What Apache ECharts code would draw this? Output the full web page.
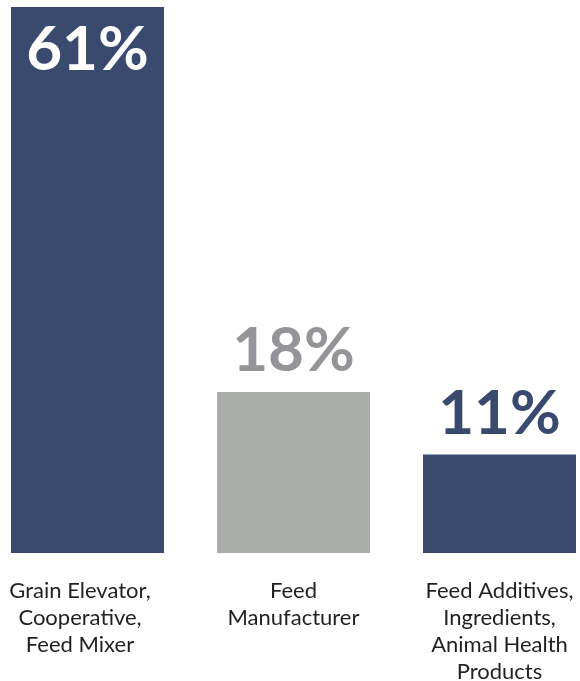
<!DOCTYPE html>
<html>
<head>
<meta charset="utf-8">
<script src="https://cdn.jsdelivr.net/npm/echarts@6/dist/echarts.min.js"></script>
<style>
  html, body { margin: 0; padding: 0; background: #fff; }
  #chart { width: 580px; height: 681px; }
</style>
</head>
<body>
<div id="chart"></div>
<script>
const categories = [
  'Grain Elevator,\nCooperative,\nFeed Mixer',
  'Feed\nManufacturer',
  'Feed Additives,\nIngredients,\nAnimal Health\nProducts'
]
const values = [61, 18, 11]
const barColors = ['#394a6e', '#a9aca8', '#394a6e']
const labelColors = ['#ffffff', '#939598', '#394a6e']

const chart = echarts.init(document.getElementById('chart'))

chart.setOption({
  animation: false,
  grid: { left: -15.5, right: -22.5, top: 7, bottom: 128, containLabel: false, outerBoundsMode: 'none' },
  xAxis: {
    type: 'category',
    data: categories.map((c, i) => ({
      value: c,
      textStyle: i === 0 ? { padding: [0, 15, 0, 0] } : {},
    })),
    axisLine: { show: false },
    axisTick: { show: false },
    axisLabel: {
      interval: 0,
      margin: 24,
      color: '#231f20',
      fontFamily: 'Lato',
      fontSize: 22,
      lineHeight: 27,
      align: 'center',
    },
  },
  yAxis: {
    type: 'value',
    min: 0,
    max: 61,
    show: false,
    splitLine: { show: false },
  },
  series: [
    {
      type: 'bar',
      barWidth: 153,
      data: values.map((v, i) => ({
        value: v,
        itemStyle: { color: barColors[i] },
        label: {
          show: true,
          position: i === 0 ? 'insideTop' : 'top',
          distance: i === 0 ? 12 : 10,
          color: labelColors[i],
        },
      })),
      label: {
        formatter: '{c}%',
        fontFamily: 'Lato',
        fontWeight: 'bold',
        fontSize: 62,
        lineHeight: 62,
      },
    },
  ],
})
</script>
</body>
</html>
